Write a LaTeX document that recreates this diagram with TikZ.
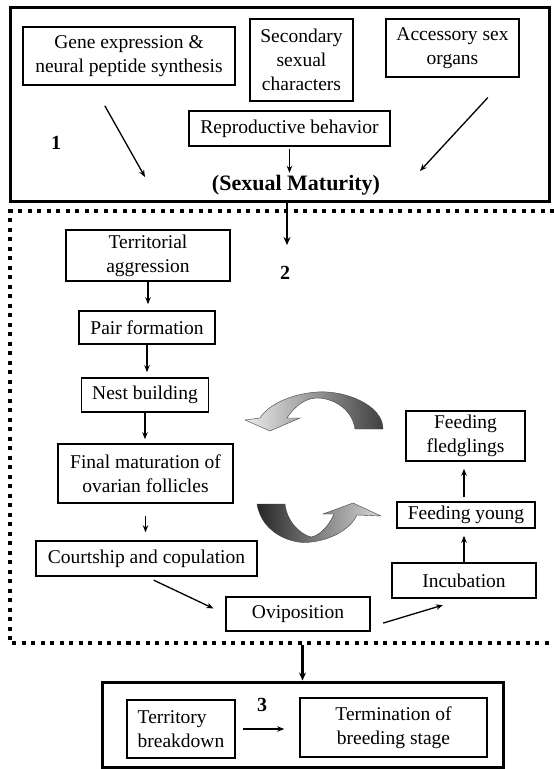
\documentclass[tikz,border=0pt]{standalone}
\usepackage{fontspec}
\setmainfont{Liberation Serif}
\usetikzlibrary{arrows.meta}

\begin{document}
\begin{tikzpicture}[x=1pt, y=-1pt,
		stagebox/.style={draw, line width=1.5pt, inner sep=0pt, align=center, font=\fontsize{19.5}{24}\selectfont},
		frame/.style={draw, line width=3pt, inner sep=0pt},
		flow/.style={line width=1.3pt, -{Stealth[length=7pt, width=5.5pt]}},
		bigflow/.style={line width=2.4pt, -{Stealth[length=8pt, width=7pt]}},
		num/.style={font=\fontsize{20}{24}\selectfont\bfseries, inner sep=1pt},
		turn/.style={draw=gray!50!black, line width=0.4pt}]
	\useasboundingbox (0,0) rectangle (554,769);
	
	% stage 1
	\node[frame, minimum width=539pt, minimum height=194pt] (stage1) at (279.5,104) {};
	\node[stagebox, minimum width=212pt, minimum height=58pt] (gene) at (129,56) {Gene expression \&\\neural peptide synthesis};
	\node[stagebox, minimum width=103pt, minimum height=82pt] (secondary) at (301.5,60) {Secondary\\sexual\\characters};
	\node[stagebox, minimum width=133pt, minimum height=58pt] (accessory) at (452.5,48) {Accessory sex\\organs};
	\node[stagebox, minimum width=201pt, minimum height=35pt] (repro) at (289.5,128.5) {Reproductive behavior};
	\node[font=\fontsize{22}{26}\selectfont\bfseries, inner sep=2pt] (maturity) at (296,185) {(Sexual Maturity)};
	\node[num] (num1) at (56,143) {1};
	
	\coordinate (matleft) at (145,177);
	\coordinate (matright) at (420,171);
	\draw[flow, shorten <=23pt] (gene.220) -- (matleft);
	\draw[flow, shorten <=27pt] (accessory.331) -- (matright);
	\draw[flow, shorten <=2pt] (repro.south) -- (repro.south |- maturity.north);
	
	% stage 2
	\draw[line width=4pt, dash pattern=on 4pt off 5.5pt] (554,211) -- (10,211) -- (10,643) -- (554,643);
	\coordinate (entry2) at (287,245);
	\draw[bigflow] (stage1.south -| entry2) -- (entry2);
	
	\node[stagebox, minimum width=164pt, minimum height=51pt] (territorial) at (148,255.5) {Territorial\\aggression};
	\node[num] (num2) at (285,273) {2};
	\node[stagebox, minimum width=136pt, minimum height=33pt] (pair) at (147,327.5) {Pair formation};
	\node[stagebox, minimum width=127pt, minimum height=34pt] (nest) at (145,395) {Nest building};
	\node[stagebox, minimum width=175pt, minimum height=59pt] (final) at (145.5,473.5) {Final maturation of\\ovarian follicles};
	\node[stagebox, minimum width=221pt, minimum height=35pt] (courtship) at (146.5,558.5) {Courtship and copulation};
	\node[stagebox, minimum width=144pt, minimum height=34pt] (oviposition) at (298,614) {Oviposition};
	\node[stagebox, minimum width=144pt, minimum height=35pt] (incubation) at (464,580.5) {Incubation};
	\node[stagebox, minimum width=138pt, minimum height=26pt] (young) at (466,515) {Feeding young};
	\node[stagebox, minimum width=119pt, minimum height=50pt] (fledglings) at (465.5,436) {Feeding\\fledglings};
	
	\draw[flow, shorten >=6pt] (territorial.south) -- (territorial.south |- pair.north);
	\draw[flow, shorten >=5pt] (pair.south) -- (pair.south |- nest.north);
	\draw[flow, shorten >=4pt] (nest.south) -- (nest.south |- final.north);
	\draw[flow, shorten <=12pt, shorten >=8pt] (final.south) -- (final.south |- courtship.north);
	\draw[flow, shorten <=8pt, shorten >=13pt] (courtship.south) -- (oviposition.west);
	\draw[flow, shorten <=13pt, shorten >=22pt] (oviposition.-10) -- (incubation.south);
	\draw[flow, shorten >=7pt] (incubation.north) -- (incubation.north |- young.south);
	\draw[flow, shorten <=4pt, shorten >=7pt] (incubation.north |- young.north) -- (incubation.north |- fledglings.south);
	
	% turning arrows
	\shade[turn, left color=gray!15, right color=black!75] (383,429) .. controls (383,405) and (345,390) .. (317,392) .. controls (290,394) and (268,405) .. (260,418) -- (245,420) -- (270,431) -- (300,418) -- (287,418) .. controls (294,407) and (305,398) .. (317,398) .. controls (332,398) and (352,408) .. (355,429) -- cycle;
	\shade[turn, left color=black!85, right color=gray!30] (257,504) .. controls (262,535) and (295,545) .. (311,542) .. controls (330,540) and (350,530) .. (357,515) -- (381,516) -- (353,503) -- (323,514) -- (334,514) .. controls (328,528) and (318,536) .. (311,537) .. controls (300,534) and (287,522) .. (285,504) -- cycle;
	
	% stage 3
	\node[frame, minimum width=401pt, minimum height=85pt] (stage3) at (302.5,724.5) {};
	\coordinate (exit2) at (300,645);
	\draw[bigflow] (stage3.north |- exit2) -- (stage3.north);
	\node[stagebox, align=left, minimum width=108pt, minimum height=58pt] (breakdown) at (181,729) {Territory\\breakdown};
	\node[stagebox, minimum width=187pt, minimum height=59pt] (termination) at (393.5,727.5) {Termination of\\breeding stage};
	\node[num] (num3) at (262,705) {3};
	\draw[flow, shorten <=7pt, shorten >=15pt] (breakdown) -- (breakdown -| termination.west);
\end{tikzpicture}
\end{document}
